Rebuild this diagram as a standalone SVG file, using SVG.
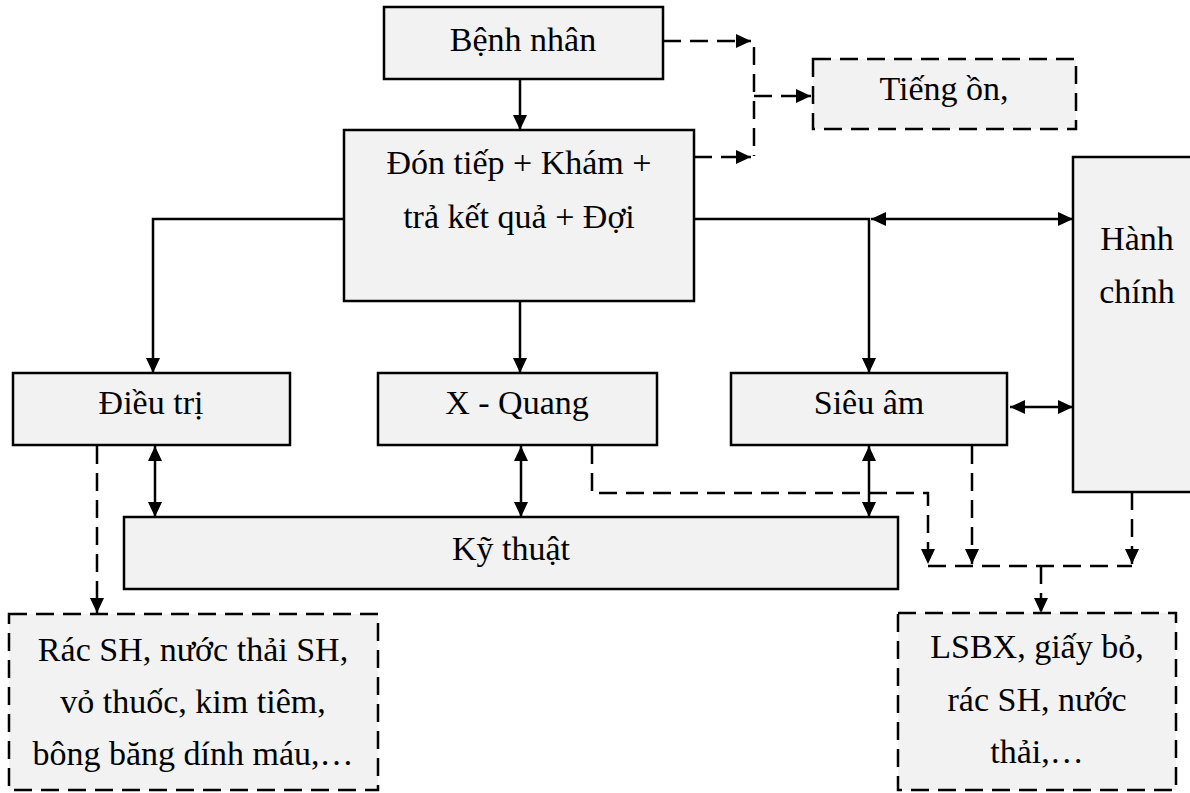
<svg xmlns="http://www.w3.org/2000/svg" width="1190" height="793" viewBox="0 0 1190 793">
  <style>
    .box { fill: #f2f2f2; stroke: #000; stroke-width: 2.5; }
    .dbox { fill: #f2f2f2; stroke: #000; stroke-width: 2.5; stroke-dasharray: 18 9; }
    .lbl { font-family: "Liberation Serif", "Times New Roman", serif; font-size: 34px; fill: #000; text-anchor: middle; }
    .ln { fill: none; stroke: #000; stroke-width: 2.5; }
    .dash { fill: none; stroke: #000; stroke-width: 2.5; stroke-dasharray: 18 9; }
    .arr { marker-end: url(#head); }
    .both { marker-start: url(#head); marker-end: url(#head); }
  </style>
  <defs>
    <marker id="head" markerUnits="userSpaceOnUse" markerWidth="16" markerHeight="14" refX="15" refY="7" orient="auto-start-reverse">
      <path d="M0,0 L15,7 L0,14 z" fill="#000"/>
    </marker>
  </defs>

  <rect width="1190" height="793" fill="#fff"/>

  <g id="benh-nhan">
    <rect class="box" x="384" y="7" width="279" height="72"/>
    <text class="lbl" x="523" y="51">Bệnh nhân</text>
  </g>

  <g id="tieng-on">
    <rect class="dbox" x="813" y="59" width="263" height="70"/>
    <text class="lbl" x="944" y="100">Tiếng ồn,</text>
  </g>

  <g id="don-tiep">
    <rect class="box" x="344" y="130" width="350" height="171"/>
    <text class="lbl" x="519" y="174">Đón tiếp + Khám +</text>
    <text class="lbl" x="519" y="228">trả kết quả + Đợi</text>
  </g>

  <g id="hanh-chinh">
    <rect class="box" x="1073" y="157" width="130" height="335"/>
    <text class="lbl" x="1137" y="250">Hành</text>
    <text class="lbl" x="1137" y="303">chính</text>
  </g>

  <g id="dieu-tri">
    <rect class="box" x="13" y="373" width="277" height="72"/>
    <text class="lbl" x="151" y="414">Điều trị</text>
  </g>

  <g id="x-quang">
    <rect class="box" x="378" y="373" width="279" height="72"/>
    <text class="lbl" x="517" y="414">X - Quang</text>
  </g>

  <g id="sieu-am">
    <rect class="box" x="731" y="373" width="276" height="72"/>
    <text class="lbl" x="869" y="414">Siêu âm</text>
  </g>

  <g id="ky-thuat">
    <rect class="box" x="124" y="517" width="774" height="72"/>
    <text class="lbl" x="511" y="560">Kỹ thuật</text>
  </g>

  <g id="chat-thai-dieu-tri">
    <rect class="dbox" x="9" y="614" width="369" height="176"/>
    <text class="lbl" x="193" y="661">Rác SH, nước thải SH,</text>
    <text class="lbl" x="193" y="713">vỏ thuốc, kim tiêm,</text>
    <text class="lbl" x="193" y="765">bông băng dính máu,…</text>
  </g>

  <g id="chat-thai-khac">
    <rect class="dbox" x="898" y="613" width="278" height="177"/>
    <text class="lbl" x="1037" y="658">LSBX, giấy bỏ,</text>
    <text class="lbl" x="1037" y="711">rác SH, nước</text>
    <text class="lbl" x="1037" y="763">thải,…</text>
  </g>

  <g id="connectors">
    <!-- solid flows -->
    <path class="ln arr" d="M520,79 V130"/>
    <path class="ln arr" d="M520,301 V373"/>
    <path class="ln arr" d="M344,219 H153 V373"/>
    <path class="ln arr" d="M694,219 H869 V373"/>
    <path class="ln both" d="M871,219 H1073"/>
    <path class="ln both" d="M1010,407 H1073"/>
    <path class="ln both" d="M155,446 V517"/>
    <path class="ln both" d="M521,446 V517"/>
    <path class="ln both" d="M869,446 V517"/>

    <!-- dashed emissions -->
    <path class="dash arr" d="M663,41 H751"/>
    <path class="dash" d="M754,47 V156"/>
    <path class="dash arr" d="M754,96 H811"/>
    <path class="dash arr" d="M694,157 H751"/>
    <path class="dash arr" d="M97,446 V613"/>
    <path class="dash arr" d="M592,446 V493 H928 V564"/>
    <path class="dash arr" d="M972,446 V564"/>
    <path class="dash arr" d="M1132,492 V564"/>
    <path class="dash" d="M928,566 H1132"/>
    <path class="dash arr" d="M1041,566 V613"/>
  </g>
</svg>
